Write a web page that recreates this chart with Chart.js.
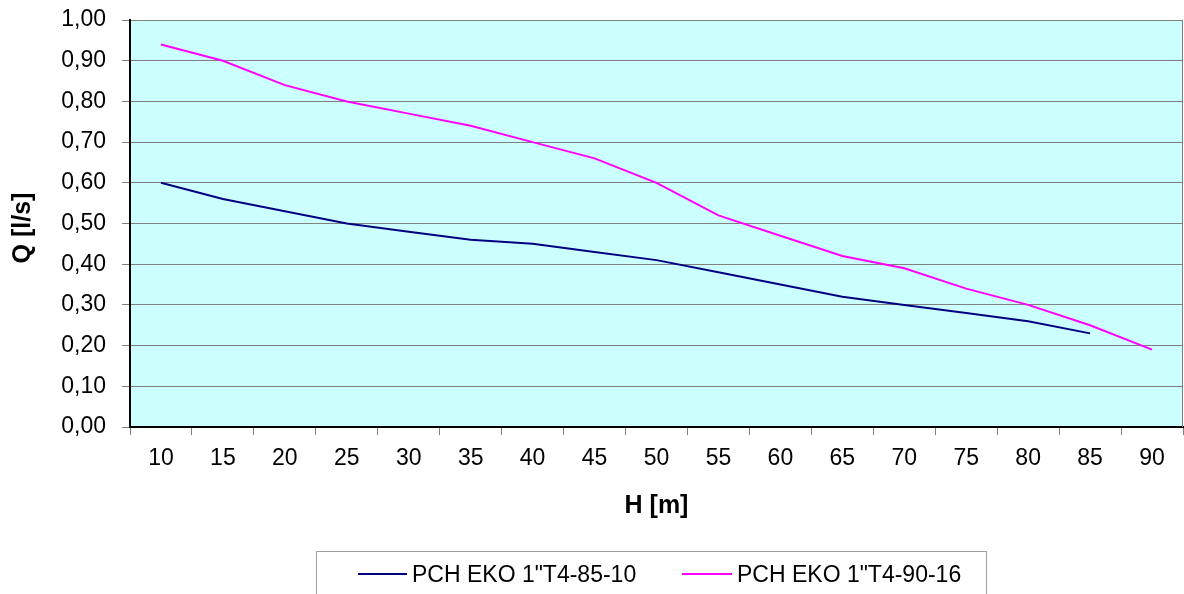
<!DOCTYPE html>
<html>
<head>
<meta charset="utf-8">
<script src="https://cdn.jsdelivr.net/npm/chart.js@4.4.1/dist/chart.umd.min.js"></script>
<style>
  html, body { margin: 0; padding: 0; background: #ffffff; }
  #wrap { width: 1184px; height: 594px; }
</style>
</head>
<body>
<div id="wrap"><canvas id="c" width="1184" height="594"></canvas></div>
<script>
const categories = ['10','15','20','25','30','35','40','45','50','55','60','65','70','75','80','85','90'];
const seriesNames = ['PCH EKO 1"T4-85-10', 'PCH EKO 1"T4-90-16'];
const series1 = [0.60, 0.56, 0.53, 0.50, 0.48, 0.46, 0.45, 0.43, 0.41, 0.38, 0.35, 0.32, 0.30, 0.28, 0.26, 0.23, null];
const series2 = [0.94, 0.90, 0.84, 0.80, 0.77, 0.74, 0.70, 0.66, 0.60, 0.52, 0.47, 0.42, 0.39, 0.34, 0.30, 0.25, 0.19];
const yTickLabels = ['0,00','0,10','0,20','0,30','0,40','0,50','0,60','0,70','0,80','0,90','1,00'];
const xTitle = 'H [m]';
const yTitle = 'Q [l/s]';

const FONT = "'Liberation Sans', Arial, Helvetica, sans-serif";
const colors = ['#000080', '#FF00FF'];

const decorPlugin = {
  id: 'decor',
  beforeDraw(chart) {
    const ctx = chart.ctx;
    const a = chart.chartArea;
    ctx.save();
    ctx.fillStyle = '#ffffff';
    ctx.fillRect(0, 0, chart.width, chart.height);
    ctx.fillStyle = '#CCFFFF';
    ctx.fillRect(a.left, a.top, a.right - a.left, a.bottom - a.top);
    ctx.restore();
  },
  beforeDatasetsDraw(chart) {
    const ctx = chart.ctx;
    const a = chart.chartArea;
    ctx.save();
    ctx.strokeStyle = '#808080';
    ctx.lineWidth = 1;
    ctx.beginPath();
    ctx.moveTo(a.right - 0.5, a.top);
    ctx.lineTo(a.right - 0.5, a.bottom);
    ctx.stroke();
    ctx.restore();
  },
  afterDraw(chart) {
    const ctx = chart.ctx;
    ctx.save();
    ctx.translate(23, 228);
    ctx.rotate(-Math.PI / 2);
    ctx.font = 'bold 25px ' + FONT;
    ctx.fillStyle = '#000000';
    ctx.textAlign = 'center';
    ctx.textBaseline = 'middle';
    ctx.fillText(yTitle, 0, 0);
    ctx.restore();

    ctx.save();
    ctx.strokeStyle = '#a0a0a0';
    ctx.lineWidth = 1;
    ctx.strokeRect(316.5, 551.5, 670, 60);
    const items = [
      { x0: 358, x1: 407, tx: 412 },
      { x0: 682, x1: 732, tx: 737 }
    ];
    ctx.font = '23px ' + FONT;
    ctx.textBaseline = 'alphabetic';
    ctx.textAlign = 'left';
    chart.data.datasets.forEach((ds, i) => {
      const it = items[i];
      ctx.strokeStyle = ds.borderColor;
      ctx.lineWidth = 2;
      ctx.beginPath();
      ctx.moveTo(it.x0, 574);
      ctx.lineTo(it.x1, 574);
      ctx.stroke();
      ctx.fillStyle = '#000000';
      ctx.fillText(ds.label, it.tx, 582);
    });
    ctx.restore();
  }
};

new Chart(document.getElementById('c'), {
  type: 'line',
  data: {
    labels: categories,
    datasets: [
      { label: seriesNames[0], data: series1, borderColor: colors[0], backgroundColor: colors[0], borderWidth: 2, pointRadius: 0, tension: 0, spanGaps: false },
      { label: seriesNames[1], data: series2, borderColor: colors[1], backgroundColor: colors[1], borderWidth: 2, pointRadius: 0, tension: 0, spanGaps: false }
    ]
  },
  options: {
    responsive: false,
    maintainAspectRatio: false,
    animation: false,
    devicePixelRatio: 1,
    layout: { padding: { top: 20, right: 1, left: 0, bottom: 0 } },
    plugins: {
      legend: { display: false },
      tooltip: { enabled: false },
      title: { display: false }
    },
    scales: {
      x: {
        type: 'category',
        offset: true,
        grid: { offset: true, drawOnChartArea: false, drawTicks: true, tickLength: 8, color: '#808080', lineWidth: 1 },
        border: { display: true, color: '#000000', width: 2 },
        ticks: { color: '#000000', font: { family: FONT, size: 23 }, padding: 10, maxRotation: 0, autoSkip: false },
        title: { display: true, text: xTitle, color: '#000000', font: { family: FONT, size: 25, weight: 'bold' }, padding: { top: 0, bottom: 73 } },
        afterFit(scale) { scale.height = 167; scale.paddingLeft = 0; scale.paddingRight = 0; }
      },
      y: {
        min: 0,
        max: 1,
        grid: { color: '#808080', lineWidth: 1, tickLength: 8 },
        border: { display: true, color: '#000000', width: 2 },
        ticks: {
          stepSize: 0.1,
          color: '#000000',
          font: { family: FONT, size: 23 },
          padding: 16,
          callback: (v, i) => yTickLabels[i]
        },
        afterFit(scale) { scale.width = 130; scale.paddingTop = 0; scale.paddingBottom = 0; }
      }
    }
  },
  plugins: [decorPlugin]
});
</script>
</body>
</html>
